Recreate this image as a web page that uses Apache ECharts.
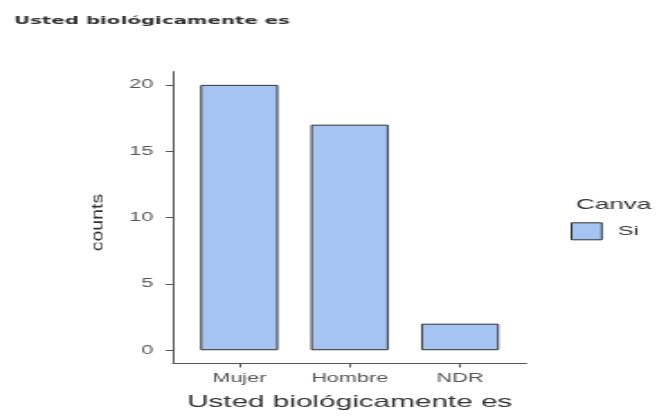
<!DOCTYPE html>
<html>
<head>
<meta charset="utf-8">
<script src="https://cdn.jsdelivr.net/npm/echarts@6/dist/echarts.min.js"></script>
<style>
html,body{margin:0;padding:0;background:#fff;overflow:hidden;}
#wrap{width:656px;height:416px;overflow:hidden;}
#chart{width:364.44px;height:416px;transform:scaleX(1.8);transform-origin:0 0;}
</style>
</head>
<body>
<div id="wrap"><div id="chart"></div></div>
<script>
const categories = ['Mujer', 'Hombre', 'NDR'];
const counts = [20, 17, 2];
const yTicks = [0, 5, 10, 15, 20];
const seriesName = 'Si';
const legendTitle = 'Canva';
const chartTitle = 'Usted biológicamente es';
const xTitle = 'Usted biológicamente es';
const yTitle = 'counts';

const chart = echarts.init(document.getElementById('chart'), null, {renderer: 'canvas'});
const catIdx = categories.map((c, i) => i);
const barData = categories.map((c, i) => [i, counts[i]]);

chart.setOption({
  animation: false,
  backgroundColor: '#ffffff',
  title: [
    {text: chartTitle, left: 7.8, top: 16, padding: 0,
     textStyle: {fontFamily: 'DejaVu Sans', fontWeight: 'bold', fontSize: 11, color: '#333333'}},
    {text: legendTitle, left: 320, top: 197, padding: 0,
     textStyle: {fontFamily: 'Liberation Sans', fontWeight: 'normal', fontSize: 14.5, color: '#333333'}}
  ],
  legend: {
    data: [seriesName], left: 317, top: 222.3, padding: 0,
    itemWidth: 16.8, itemHeight: 17, icon: 'rect',
    itemStyle: {borderColor: '#333333', borderWidth: 1},
    textStyle: {fontFamily: 'Liberation Sans', fontSize: 13, color: '#333333', padding: [0, 0, 0, 4]}
  },
  grid: {left: 96.1, right: 71.6, top: 71.6, bottom: 50.6, containLabel: false},
  xAxis: {
    type: 'value', min: -0.6, max: 2.6,
    name: xTitle, nameLocation: 'middle', nameGap: 30.5,
    nameTextStyle: {fontFamily: 'Liberation Sans', fontSize: 16.5, color: '#333333'},
    axisLine: {show: true, onZero: false, lineStyle: {color: '#555555', width: 1}},
    axisTick: {show: true, customValues: catIdx, length: 4, lineStyle: {color: '#555555'}},
    axisLabel: {show: true, customValues: catIdx, margin: 9.5,
      formatter: v => categories[Math.round(v)] || '',
      fontFamily: 'Liberation Sans', fontSize: 12, color: '#555555'},
    splitLine: {show: false}
  },
  yAxis: {
    type: 'value', min: -1, max: 21,
    axisLine: {show: true, onZero: false, lineStyle: {color: '#555555', width: 1}},
    axisTick: {show: true, customValues: yTicks, length: 4, lineStyle: {color: '#555555'}},
    axisLabel: {show: true, customValues: yTicks, margin: 11,
      fontFamily: 'Liberation Sans', fontSize: 12, color: '#555555'},
    splitLine: {show: false}
  },
  graphic: [{
    type: 'text', x: 55, y: 222.5, rotation: Math.PI / 2, scaleX: 1, scaleY: 0.45,
    style: {text: yTitle, fontFamily: 'Liberation Sans', fontSize: 19.5, fill: '#333333',
            align: 'center', verticalAlign: 'middle'}
  }],
  series: [{
    name: seriesName, type: 'bar', data: barData, barWidth: 43.3,
    itemStyle: {color: '#A6C4F1', borderColor: '#333333', borderWidth: 1}
  }]
});
</script>
</body>
</html>
